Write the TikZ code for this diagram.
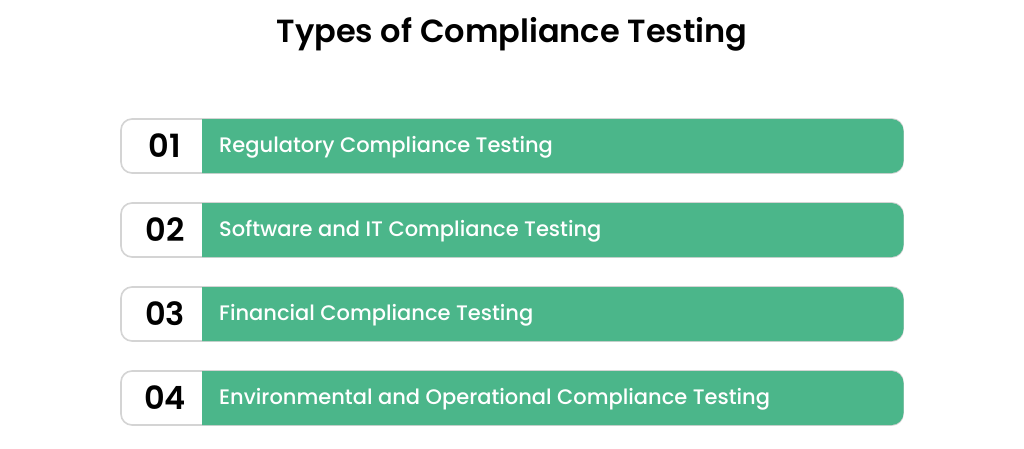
\documentclass[tikz,border=0pt]{standalone}
\usepackage{fontspec}
\setmainfont{Poppins}[BoldFont={Poppins SemiBold}]
\newfontfamily\medfont{Poppins Medium}
\definecolor{rowgreen}{HTML}{4BB68A}
\definecolor{rimgray}{HTML}{D4D4D4}
\begin{document}
\begin{tikzpicture}[x=1pt,y=-1pt,
  rowbox/.style={draw=rimgray,line width=1.6pt,fill=white,rounded corners=11pt},
  numtext/.style={font=\fontsize{32}{36}\selectfont\bfseries,text=black,anchor=base,inner sep=0pt},
  itemtext/.style={font=\fontsize{21}{24}\selectfont\medfont,text=white,anchor=base west,inner sep=0pt},
  titletext/.style={font=\fontsize{32}{36}\selectfont\bfseries,text=black,anchor=base,inner sep=0pt}]
\useasboundingbox (0,0) rectangle (1024,448);
\fill[white] (0,0) rectangle (1024,448);
\node[titletext] (title) at (512,42) {Types of Compliance Testing};
\foreach \i/\n/\t in {1/01/Regulatory Compliance Testing,
                       2/02/Software and IT Compliance Testing,
                       3/03/Financial Compliance Testing,
                       4/04/Environmental and Operational Compliance Testing}{
  \pgfmathsetmacro{\yt}{119+84*(\i-1)}
  \pgfmathsetmacro{\yb}{\yt+54}
  \pgfmathsetmacro{\yc}{\yt+27}
  \draw[rowbox] (121,\yt) rectangle (903,\yb);
  \fill[rowgreen] (202,\yt) [rounded corners=12pt] -- (903.5,\yt) -- (903.5,\yb) [sharp corners] -- (202,\yb) -- cycle;
  \node[numtext] (num\i) at (165,\yc+11) {\n};
  \node[itemtext] (item\i) at (219,\yc+6.5) {\t};
}
\end{tikzpicture}
\end{document}
